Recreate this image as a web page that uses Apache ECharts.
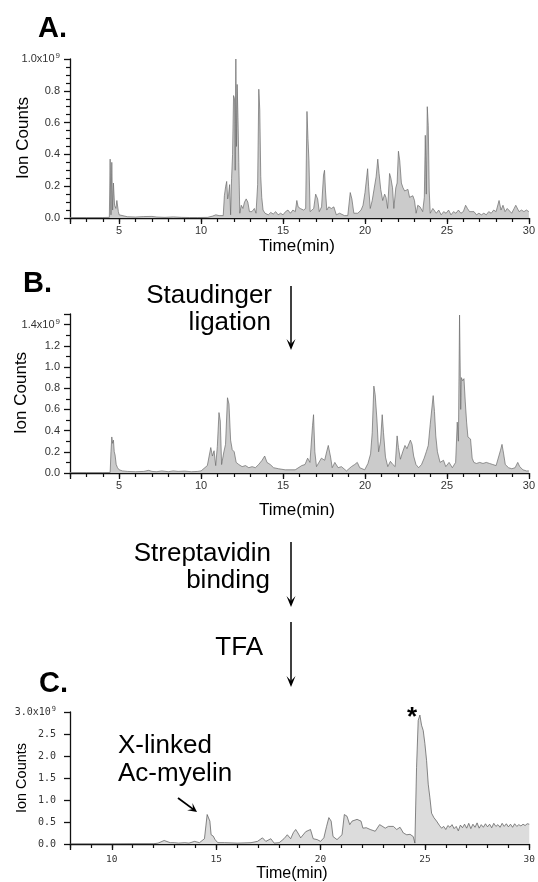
<!DOCTYPE html>
<html>
<head>
<meta charset="utf-8">
<script src="https://cdn.jsdelivr.net/npm/echarts@6/dist/echarts.min.js"></script>
<style>
html,body{margin:0;padding:0;background:#fff;}
#chart{width:538px;height:882px;}
</style>
</head>
<body>
<div id="chart"></div>
<script>
// ---- Data (ion counts in units of 1e9, time in min) ----
const traceA = [
[2,0.003],[3,0.003],[4,0.003],[4.4,0.004],
[4.45,0.37],[4.5,0.02],[4.55,0.35],[4.6,0.05],[4.65,0.22],[4.72,0.08],[4.8,0.06],[4.86,0.11],[4.9,0.12],[4.95,0.04],[5.0,0.02],[5.1,0.01],
[5.5,0.008],[6,0.006],[6.5,0.009],[7,0.01],[7.3,0.006],[7.8,0.004],[8.3,0.007],[8.8,0.004],[9.3,0.003],[9.8,0.003],[10.4,0.004],[10.7,0.012],[10.9,0.02],[11.1,0.015],[11.35,0.015],
[11.42,0.14],[11.5,0.2],[11.56,0.23],[11.62,0.12],[11.68,0.15],[11.74,0.21],[11.8,0.02],[11.86,0.25],[11.92,0.4],[11.98,0.77],[12.04,0.75],[12.08,0.3],[12.12,1.0],[12.16,0.45],[12.2,0.84],[12.25,0.63],[12.3,0.35],[12.36,0.03],
[12.45,0.08],[12.55,0.06],[12.65,0.1],[12.75,0.12],[12.85,0.1],[12.95,0.04],[13.1,0.04],[13.25,0.06],[13.35,0.03],
[13.45,0.21],[13.52,0.81],[13.58,0.68],[13.64,0.26],[13.7,0.13],[13.78,0.05],[13.9,0.03],[14.0,0.04],[14.1,0.02],[14.25,0.035],[14.4,0.025],[14.55,0.04],[14.7,0.02],[14.85,0.03],[15.0,0.02],[15.15,0.04],[15.3,0.05],[15.45,0.03],[15.6,0.05],[15.75,0.04],[15.84,0.11],[15.92,0.07],[16.05,0.06],[16.15,0.07],[16.25,0.05],[16.38,0.06],
[16.46,0.67],[16.52,0.5],[16.58,0.36],[16.65,0.04],[16.87,0.06],[16.99,0.15],[17.11,0.12],[17.21,0.04],[17.35,0.07],[17.47,0.27],[17.53,0.30],[17.59,0.17],[17.67,0.05],[17.79,0.07],[17.95,0.06],[18.1,0.07],[18.25,0.02],[18.45,0.03],[18.75,0.015],[18.95,0.015],
[19.1,0.16],[19.2,0.12],[19.32,0.03],[19.56,0.03],[19.76,0.05],[19.88,0.08],[20.0,0.16],[20.16,0.31],[20.22,0.2],[20.32,0.06],[20.44,0.11],[20.56,0.1],[20.68,0.26],[20.78,0.37],[20.86,0.28],[20.96,0.18],[21.08,0.11],[21.2,0.15],[21.28,0.13],[21.38,0.06],
[21.5,0.28],[21.58,0.25],[21.68,0.19],[21.76,0.06],[21.88,0.19],[21.96,0.22],[22.04,0.42],[22.12,0.36],[22.22,0.22],[22.32,0.19],[22.42,0.17],[22.52,0.18],[22.62,0.18],[22.72,0.13],[22.82,0.13],[22.92,0.14],[23.02,0.11],[23.12,0.03],[23.22,0.08],[23.36,0.07],[23.52,0.04],[23.62,0.13],
[23.68,0.52],[23.74,0.15],[23.8,0.70],[23.86,0.58],[23.92,0.17],[23.98,0.03],[24.14,0.06],
[24.2,0.05],[24.35,0.03],[24.5,0.05],[24.65,0.02],[24.8,0.04],[24.95,0.03],[25.1,0.05],[25.25,0.02],[25.4,0.04],[25.55,0.03],[25.7,0.05],[25.85,0.03],[26.0,0.04],[26.14,0.08],[26.25,0.06],[26.38,0.04],[26.5,0.03],[26.65,0.04],[26.8,0.02],[26.95,0.03],[27.1,0.02],[27.25,0.03],[27.4,0.02],[27.55,0.04],[27.7,0.03],[27.85,0.05],[28.0,0.04],
[28.18,0.11],[28.3,0.05],[28.42,0.08],[28.55,0.04],[28.68,0.06],[28.8,0.05],[28.95,0.03],[29.1,0.06],[29.2,0.08],[29.3,0.07],[29.4,0.04],[29.55,0.05],[29.7,0.04],[29.85,0.05],[30,0.04]
];

const traceB = [
[2,0.004],[3,0.004],[4,0.004],[4.45,0.005],[4.5,0.2],[4.55,0.34],[4.6,0.28],[4.65,0.31],[4.7,0.2],[4.75,0.17],[4.82,0.08],[4.9,0.05],[5.0,0.03],[5.2,0.02],[5.5,0.015],[6,0.012],[6.5,0.015],[6.8,0.025],[7,0.015],[7.3,0.012],[7.6,0.02],[8.0,0.012],[8.3,0.02],[8.6,0.015],[9.0,0.018],[9.4,0.012],[9.8,0.015],[10.0,0.02],
[10.38,0.07],[10.59,0.24],[10.69,0.16],[10.79,0.21],[10.89,0.07],[10.99,0.25],[11.09,0.57],[11.17,0.49],[11.25,0.08],[11.39,0.2],[11.49,0.27],[11.61,0.71],[11.7,0.65],[11.8,0.31],[11.9,0.22],[12.02,0.2],[12.14,0.1],[12.3,0.08],[12.5,0.06],[12.71,0.07],[12.91,0.05],[13.11,0.06],[13.31,0.05],[13.51,0.08],[13.72,0.12],[13.82,0.13],
[13.88,0.16],[14.02,0.1],[14.22,0.08],[14.42,0.05],[14.73,0.04],[15.13,0.03],[15.74,0.03],[16.14,0.07],[16.34,0.08],[16.5,0.14],[16.64,0.1],[16.8,0.45],[16.86,0.55],[16.94,0.2],[17.04,0.06],[17.14,0.05],[17.34,0.14],[17.54,0.12],
[17.66,0.2],[17.76,0.26],[17.9,0.15],[18.0,0.05],[18.16,0.1],[18.36,0.05],[18.56,0.06],[18.87,0.02],[19.17,0.06],[19.37,0.08],[19.53,0.1],[19.68,0.05],[19.98,0.03],[20.18,0.09],[20.34,0.18],[20.44,0.38],[20.54,0.82],[20.62,0.74],[20.73,0.5],[20.83,0.2],[20.95,0.3],[21.05,0.55],[21.13,0.38],[21.25,0.15],[21.39,0.06],
[21.55,0.11],[21.7,0.08],[21.84,0.06],[21.96,0.35],[22.04,0.24],[22.16,0.13],[22.3,0.2],[22.44,0.26],[22.56,0.23],[22.66,0.24],[22.77,0.31],[22.87,0.27],[22.97,0.16],[23.11,0.08],[23.27,0.05],[23.45,0.08],[23.61,0.14],[23.74,0.2],[23.86,0.26],[23.98,0.46],[24.08,0.45],[24.16,0.73],[24.24,0.58],[24.32,0.35],[24.42,0.2],[24.58,0.1],[24.79,0.12],[24.93,0.06],[25.13,0.1],[25.33,0.05],[25.53,0.1],
[25.63,0.48],[25.7,0.3],[25.74,0.3],[25.77,1.49],[25.81,1.49],[25.84,0.6],[25.88,0.9],[25.96,0.87],[26.04,0.89],[26.12,0.67],[26.2,0.48],[26.28,0.34],[26.36,0.35],[26.44,0.32],[26.54,0.14],[26.64,0.1],[26.8,0.09],[27.0,0.1],[27.2,0.09],[27.4,0.1],[27.6,0.09],[27.8,0.08],[28.0,0.07],
[28.26,0.21],[28.36,0.27],[28.46,0.18],[28.56,0.08],[28.76,0.05],[28.96,0.04],[29.16,0.05],[29.32,0.1],[29.44,0.06],[29.64,0.03],[29.85,0.02],[30,0.02]
];

const traceC = [
[8,0],[9,0],[10,0],[11,0.005],[12,0.005],[12.22,0.02],[12.51,0.08],[12.6,0.04],[12.8,0.03],[13.0,0.03],[13.2,0.02],[13.5,0.03],[13.7,0.02],[13.97,0.06],[14.2,0.03],[14.44,0.12],
[14.57,0.67],[14.63,0.7],[14.7,0.52],[14.76,0.21],[14.86,0.18],[14.95,0.1],[15.08,0.03],[15.4,0.03],[16.03,0.02],[16.67,0.03],[16.98,0.06],[17.22,0.14],[17.38,0.06],[17.62,0.12],[17.78,0.02],[18.02,0.03],
[18.25,0.12],[18.41,0.21],[18.57,0.12],[18.7,0.26],[18.81,0.33],[18.92,0.25],[19.05,0.14],[19.29,0.28],[19.52,0.33],[19.65,0.12],[19.84,0.1],[20.0,0.06],[20.16,0.14],[20.29,0.4],[20.4,0.6],[20.51,0.52],[20.6,0.17],[20.79,0.1],
[21.03,0.21],[21.14,0.67],[21.27,0.63],[21.4,0.44],[21.51,0.52],[21.75,0.56],[21.94,0.52],[22.03,0.36],[22.19,0.37],[22.38,0.33],[22.62,0.29],[22.83,0.44],[22.94,0.41],[23.1,0.36],[23.25,0.4],[23.49,0.4],[23.65,0.33],[23.81,0.38],[23.97,0.25],[24.13,0.21],[24.29,0.22],[24.44,0.17],[24.52,0.02],
[24.6,1.74],[24.68,2.81],[24.76,2.93],[24.84,2.7],[24.92,2.58],[25.0,2.28],[25.08,1.9],[25.16,1.36],[25.24,1.05],[25.32,0.7],[25.43,0.6],[25.56,0.52],
[25.7,0.42],[25.8,0.36],[25.9,0.4],[26.0,0.33],[26.1,0.42],[26.2,0.38],[26.3,0.44],[26.4,0.35],[26.5,0.4],[26.6,0.3],[26.7,0.43],[26.8,0.37],[26.9,0.45],[27.0,0.36],[27.1,0.47],[27.2,0.35],[27.3,0.45],[27.4,0.38],[27.5,0.48],[27.6,0.36],[27.7,0.44],[27.8,0.38],[27.9,0.46],[28.0,0.39],[28.1,0.45],[28.2,0.37],[28.3,0.47],[28.4,0.4],[28.5,0.44],[28.6,0.38],[28.7,0.47],[28.8,0.4],[28.9,0.46],[29.0,0.39],[29.1,0.45],[29.2,0.38],[29.3,0.46],[29.4,0.4],[29.5,0.44],[29.6,0.41],[29.7,0.45],[29.8,0.42],[29.9,0.46],[30,0.45]
];

const xRangeAB = [2, 30];
const xRangeC = [8, 30];
const yMaxA = 1.0, yMaxB = 1.5, yMaxC = 3.0;
const panelLabels = ['A.', 'B.', 'C.'];
const axisTitleX = 'Time(min)';
const axisTitleY = 'Ion Counts';

// ---- Chart ----
const chart = echarts.init(document.getElementById('chart'), null, {renderer: 'canvas'});
const SANS = '"Liberation Sans", Arial, sans-serif';
const MONO = '"DejaVu Sans Mono", monospace';
const AX = '#111';

function mainX(g, range, font, fsize, margin) {
  return {
    gridIndex: g, type: 'value', position: 'bottom', min: range[0], max: range[1], splitNumber: 5,
    splitLine: {show: false},
    axisLine: {lineStyle: {color: AX, width: 1.3}},
    axisTick: {length: 6, lineStyle: {color: AX, width: 1.3}},
    axisLabel: {formatter: v => (v % 5 === 0 ? String(v) : ''), margin: margin, fontSize: fsize, fontFamily: font, color: '#333'}
  };
}
function minorX(g, range) {
  return {
    gridIndex: g, type: 'value', position: 'bottom', offset: 0, min: range[0], max: range[1], interval: 1,
    splitLine: {show: false}, axisLine: {show: false},
    axisTick: {length: 4, lineStyle: {color: AX, width: 1.2}},
    axisLabel: {show: false}
  };
}
function yAxisCfg(g, max, interval, minorSplit, topVal, font, fsize, margin) {
  return {
    gridIndex: g, type: 'value', position: 'left', min: 0, max: max, interval: interval,
    splitLine: {show: false},
    axisLine: {show: true, lineStyle: {color: AX, width: 1.3}},
    axisTick: {show: true, length: 6, lineStyle: {color: AX, width: 1.3}},
    minorTick: {show: minorSplit > 0, splitNumber: minorSplit || 5, length: 4, lineStyle: {color: AX, width: 1.2}},
    axisLabel: {
      margin: margin, fontSize: fsize, fontFamily: font, color: '#333',
      formatter: v => {
        if (Math.abs(v - topVal) < 1e-6) return '{m|' + topVal.toFixed(1) + 'x10}{s|9}';
        if (v > topVal + 1e-6) return '';
        return v.toFixed(1);
      },
      rich: {
        m: {fontSize: fsize, fontFamily: font, color: '#333'},
        s: {fontSize: Math.round(fsize * 0.7), fontFamily: font, color: '#333', verticalAlign: 'top', padding: [0, 0, 6, 1]}
      }
    }
  };
}
function trace(xi, yi, data, fill, stroke) {
  return {
    type: 'line', xAxisIndex: xi, yAxisIndex: yi, data: data,
    symbol: 'none', showSymbol: false, silent: true, clip: true,
    lineStyle: {color: stroke, width: 0.7},
    areaStyle: {color: fill, opacity: 1}
  };
}

function arrowDown(x, y1, y2) {
  return [
    {type: 'line', shape: {x1: x, y1: y1, x2: x, y2: y2 - 4}, style: {stroke: '#000', lineWidth: 1.5}},
    {type: 'polygon', shape: {points: [[x - 4.5, y2 - 11], [x, y2], [x + 4.5, y2 - 11], [x, y2 - 6]]}, style: {fill: '#000'}}
  ];
}
function arrowAny(x1, y1, x2, y2) {
  const dx = x2 - x1, dy = y2 - y1, L = Math.hypot(dx, dy);
  const ux = dx / L, uy = dy / L, px = -uy, py = ux;
  const hl = 9, hw = 4.5;
  return [
    {type: 'line', shape: {x1: x1, y1: y1, x2: x2 - ux * 4, y2: y2 - uy * 4}, style: {stroke: '#000', lineWidth: 1.8}},
    {type: 'polygon', shape: {points: [
      [x2 - ux * hl + px * hw, y2 - uy * hl + py * hw], [x2, y2],
      [x2 - ux * hl - px * hw, y2 - uy * hl - py * hw], [x2 - ux * 5, y2 - uy * 5]]}, style: {fill: '#000'}}
  ];
}
function txt(x, y, s, font, align, rot) {
  return {type: 'text', x: x, y: y, rotation: rot || 0,
    style: {text: s, font: font, fill: '#000', align: align || 'left', verticalAlign: 'middle'}};
}

const graphics = [
  txt(38, 29, panelLabels[0], 'bold 29px ' + SANS),
  txt(23, 284, panelLabels[1], 'bold 29px ' + SANS),
  txt(39, 684, panelLabels[2], 'bold 29px ' + SANS),
  txt(23, 138, axisTitleY, '17px ' + SANS, 'center', Math.PI / 2),
  txt(21, 393, axisTitleY, '17px ' + SANS, 'center', Math.PI / 2),
  txt(22, 778, axisTitleY, '14.5px ' + SANS, 'center', Math.PI / 2),
  txt(297, 246, axisTitleX, '17px ' + SANS, 'center'),
  txt(297, 510, axisTitleX, '17px ' + SANS, 'center'),
  txt(292, 874, axisTitleX, '16px ' + SANS, 'center'),
  txt(272, 296, 'Staudinger', '26px ' + SANS, 'right'),
  txt(271, 323, 'ligation', '26px ' + SANS, 'right'),
  txt(271, 554, 'Streptavidin', '26px ' + SANS, 'right'),
  txt(270, 581, 'binding', '26px ' + SANS, 'right'),
  txt(263, 648, 'TFA', '26px ' + SANS, 'right'),
  txt(118, 746, 'X-linked', '26px ' + SANS, 'left'),
  txt(118, 774, 'Ac-myelin', '26px ' + SANS, 'left'),
  txt(412, 718, '*', 'bold 26px ' + SANS, 'center')
].concat(arrowDown(291, 286, 350), arrowDown(291, 542, 607), arrowDown(291, 622, 687), arrowAny(178, 798, 197, 812));

const option = {
  animation: false,
  backgroundColor: '#fff',
  grid: [
    {left: 70, top: 59, width: 462, height: 159},
    {left: 70, top: 314, width: 462, height: 159},
    {left: 70, top: 712, width: 463, height: 132}
  ],
  xAxis: [
    mainX(0, xRangeAB, SANS, 11, 7), minorX(0, xRangeAB),
    mainX(1, xRangeAB, SANS, 11, 7), minorX(1, xRangeAB),
    mainX(2, xRangeC, MONO, 9.5, 11), minorX(2, xRangeC)
  ],
  yAxis: [
    yAxisCfg(0, yMaxA, 0.2, 4, 1.0, SANS, 11, 10),
    yAxisCfg(1, yMaxB, 0.2, 2, 1.4, SANS, 11, 10),
    yAxisCfg(2, yMaxC, 0.5, 0, 3.0, MONO, 10, 14)
  ],
  series: [
    trace(0, 0, traceA, '#cbcbcb', '#6a6a6a'),
    trace(2, 1, traceB, '#cbcbcb', '#6a6a6a'),
    trace(4, 2, traceC, '#dcdcdc', '#555555')
  ],
  graphic: {elements: graphics}
};
chart.setOption(option);
</script>
</body>
</html>
